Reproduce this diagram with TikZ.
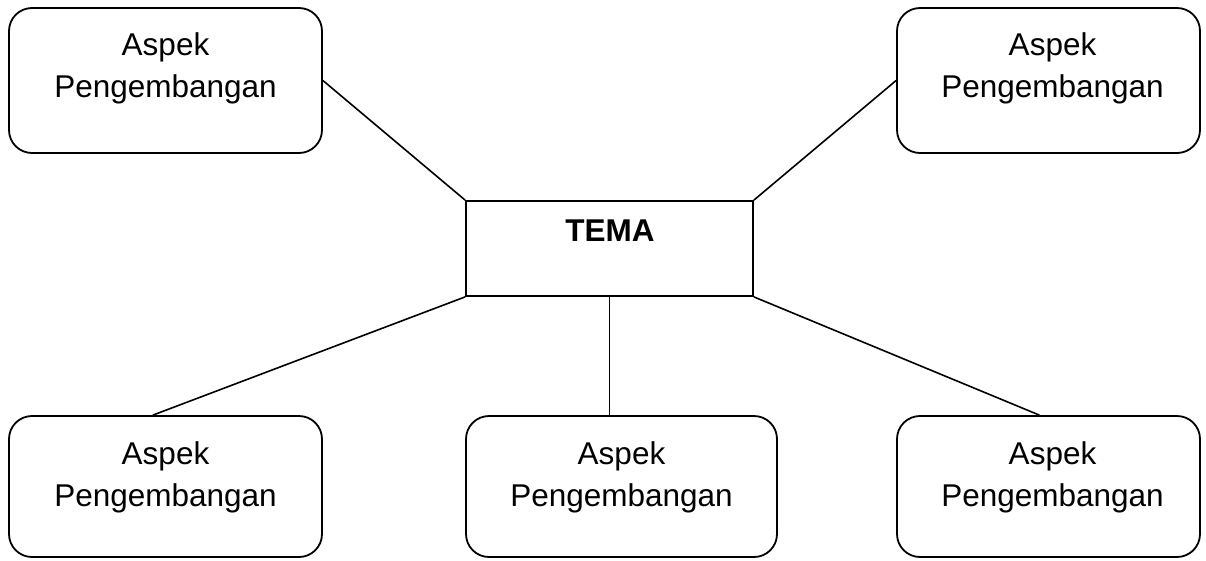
\documentclass[tikz,border=0pt]{standalone}
\usepackage{fontspec}
\setmainfont{Liberation Sans}
\usetikzlibrary{calc}
\begin{document}
\begin{tikzpicture}[x=1pt,y=-1pt,
  aspbox/.style={draw=black, line width=1.8pt, rounded corners=23pt, inner sep=0pt, minimum height=145pt},
  temabox/.style={draw=black, line width=1.8pt, inner sep=0pt, minimum width=287pt, minimum height=95pt},
  txt/.style={inner sep=0pt, align=center, font=\fontsize{31.5}{42}\selectfont},
  link/.style={line width=1.6pt}]
\useasboundingbox (0,0) rectangle (1206,560);
% boxes
\node[aspbox, minimum width=313pt] (tl) at (165.5,80.5) {};
\node[aspbox, minimum width=303pt] (tr) at (1048.5,80.5) {};
\node[temabox] (tema) at (609.5,248.5) {};
\node[aspbox, minimum width=313pt, minimum height=141pt] (bl) at (165.5,486.5) {};
\node[aspbox, minimum width=311pt, minimum height=141pt] (bm) at (621.5,486.5) {};
\node[aspbox, minimum width=303pt, minimum height=141pt] (br) at (1048.5,486.5) {};
% texts
\node[txt, anchor=north] (tlt) at ([yshift=-25pt]tl.north) {Aspek\\Pengembangan};
\node[txt, anchor=north] (trt) at ([yshift=-25pt,xshift=4pt]tr.north) {Aspek\\Pengembangan};
\node[txt, anchor=north] (blt) at ([yshift=-26pt]bl.north) {Aspek\\Pengembangan};
\node[txt, anchor=north] (bmt) at ([yshift=-26pt]bm.north) {Aspek\\Pengembangan};
\node[txt, anchor=north] (brt) at ([yshift=-26pt,xshift=4pt]br.north) {Aspek\\Pengembangan};
\node[inner sep=0pt, anchor=base, font=\fontsize{31.5}{38}\selectfont\bfseries] (temat) at (610,241) {TEMA};
% connectors
\draw[link] (tl.east) -- (tema.north west);
\draw[link] (tr.west) -- (tema.north east);
\draw[link] (tema.south west) -- ($(bl.north west)!0.46!(bl.north east)$);
\draw[link] (tema.south) -- (tema.south |- bm.north);
\draw[link] (tema.south east) -- ($(br.north west)!0.47!(br.north east)$);
\end{tikzpicture}
\end{document}
